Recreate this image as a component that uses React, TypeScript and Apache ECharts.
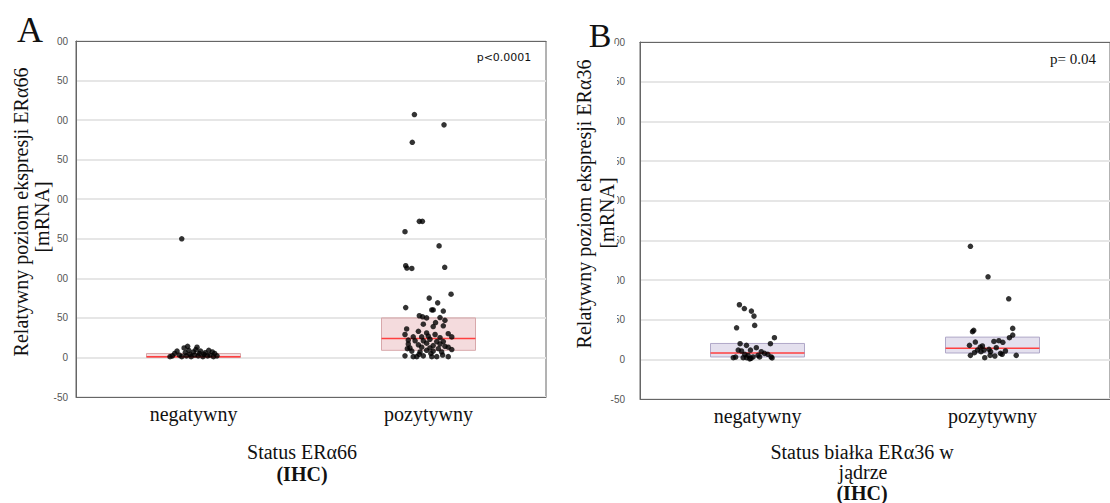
import React, { useEffect, useRef } from "react";
import * as echarts from "echarts";

const categories = ["negatywny", "pozytywny"];
const yTicks = { min: -50, max: 400, interval: 50 };

// Panel A (ERα66): box stats [q1, median, q3]
const boxA = [
  [0, 1, 5],
  [9, 24, 50],
];
// Panel B (ERα36)
const boxB = [
  [3, 8, 20],
  [8, 14, 28],
];

// points: [jitter from category centre (category units), value]
const aNeg = [
  [-0.05, 150], [-0.1, 1], [-0.09, 2], [-0.07, 8], [-0.06, 3], [-0.05, 1], [-0.04, 12], [-0.035, 6],
  [-0.03, 2], [-0.02, 9], [-0.015, 4], [-0.01, 1], [0, 7], [0.005, 3], [0.01, 10], [0.02, 2],
  [0.025, 5], [0.03, 8], [0.04, 1], [0.045, 4], [0.05, 6], [0.06, 2], [0.065, 9], [0.07, 3],
  [0.08, 7], [0.085, 1], [0.09, 5], [0.1, 2], [-0.08, 5], [-0.025, 14], [0.015, 13],
];
const aPos = [
  [-0.06, 307], [0.066, 294], [-0.069, 272], [-0.039, 172], [-0.026, 172], [-0.1, 159], [0.045, 141],
  [-0.097, 116], [-0.092, 113], [-0.071, 112.5], [0.069, 114], [0.096, 80], [0.003, 75], [0.039, 69],
  [-0.097, 63], [0.02, 60], [0.014, 60], [0.063, 58.6], [-0.039, 52.7], [-0.025, 51.4], [-0.008, 50],
  [0.049, 50.4], [0.07, 47], [0.02, 39], [-0.022, 42], [0.063, 40], [-0.093, 36], [-0.043, 33],
  [-0.008, 31], [0.084, 30], [-0.1, 29], [0.028, 29], [-0.065, 26], [-0.029, 26], [-0.001, 27],
  [0.049, 25], [0.099, 26], [-0.086, 22], [-0.057, 21], [-0.022, 21], [0.006, 23], [0.035, 20],
  [0.063, 20], [-0.086, 17], [-0.043, 16], [-0.008, 18], [0.02, 15], [0.049, 17], [0.07, 14],
  [-0.079, 12], [-0.029, 13], [0.006, 12], [0.042, 11], [0.084, 13], [0.099, 10], [-0.071, 8],
  [-0.036, 7], [-0.008, 9], [0.02, 8], [0.056, 7], [-0.1, 2], [-0.065, 1], [-0.05, 1], [-0.022, 2],
  [0.014, 1], [0.035, 1], [0.084, 1], [-0.04, 4], [0.01, 5], [0.06, 3], [-0.09, 11], [0.03, 44],
];
const bNeg = [
  [-0.077, 68.8], [-0.056, 64], [-0.026, 60.8], [-0.015, 54.5], [-0.012, 42.8], [-0.089, 39.8],
  [0.072, 27.3], [0.055, 19.7], [-0.074, 19.7], [-0.047, 17.6], [-0.005, 14.7], [-0.082, 11.7],
  [-0.068, 10.5], [-0.03, 11.7], [0.016, 9.6], [0.03, 7.5], [0.044, 6.3], [-0.054, 6.3], [-0.04, 5],
  [0.002, 5], [-0.103, 2.1], [-0.093, 2.9], [-0.061, 2.1], [-0.047, 2.1], [-0.028, 1.3], [-0.019, 3],
  [0.009, 3], [0.058, 3], [-0.033, 0.5], [0.062, 1.7],
];
const bPos = [
  [-0.094, 142.5], [-0.019, 104], [0.069, 76.3], [0.086, 39], [-0.08, 36.5], [-0.085, 34.8],
  [0.086, 30.6], [0.072, 27.3], [-0.073, 21.8], [0.006, 22.5], [0.027, 23.5], [0.044, 21.5],
  [-0.098, 17.6], [-0.043, 16.8], [-0.052, 15.5], [0.016, 14.7], [-0.015, 12.6], [-0.036, 11.7],
  [-0.064, 11.7], [0.055, 10.5], [-0.077, 8.4], [-0.049, 9.6], [-0.008, 9.6], [0.034, 7.5],
  [-0.094, 5], [-0.01, 5], [0.01, 4.2], [-0.033, 2.1], [0.101, 5], [0.041, 6.3],
];

const SERIF = '"Liberation Serif", "DejaVu Serif", serif';
const SANS = '"Liberation Sans", Arial, sans-serif';

function toPoints(pts: number[][], cat: number) {
  return pts.map(([j, v]) => [cat + 0.5 + j, v]);
}

function yLabel(v: number) {
  const s = String(v);
  return v >= 100 ? s.slice(-2) : s;
}

export default function App() {
  const ref = useRef<HTMLDivElement>(null);
  useEffect(() => {
    if (!ref.current) return;
    const chart = echarts.init(ref.current, undefined, { renderer: "svg" });

    const boxSeries = (stats: number[][], xIdx: number, yIdx: number, fill: string, stroke: string) => ({
      type: "custom",
      xAxisIndex: xIdx,
      yAxisIndex: yIdx,
      data: stats.map((s, i) => [i, s[0], s[1], s[2]]),
      renderItem: (params: any, api: any) => {
        const c = api.value(0) + 0.5;
        const tl = api.coord([c - 0.2, api.value(3)]);
        const br = api.coord([c + 0.2, api.value(1)]);
        const ml = api.coord([c - 0.2, api.value(2)]);
        const mr = api.coord([c + 0.2, api.value(2)]);
        return {
          type: "group",
          children: [
            {
              type: "rect",
              shape: { x: tl[0], y: tl[1], width: br[0] - tl[0], height: br[1] - tl[1] },
              style: { fill, stroke, lineWidth: 1 },
            },
            {
              type: "line",
              shape: { x1: ml[0], y1: ml[1], x2: mr[0], y2: mr[1] },
              style: { stroke: "#ff4040", lineWidth: 1.5 },
            },
          ],
        };
      },
    });

    const scatter = (pts: number[][], cat: number, xIdx: number, yIdx: number) => ({
      type: "scatter",
      xAxisIndex: xIdx,
      yAxisIndex: yIdx,
      symbolSize: 5.5,
      itemStyle: { color: "#000" },
      data: toPoints(pts, cat),
    });

    const catAxis = (grid: number) => ({
      type: "category",
      gridIndex: grid,
      data: categories,
      boundaryGap: true,
      position: "bottom",
      axisLine: { onZero: false, lineStyle: { color: "#666", width: 1 } },
      axisTick: { alignWithLabel: true, length: 4, lineStyle: { color: "#666" } },
      axisLabel: { fontFamily: SERIF, fontSize: 20, color: "#111", margin: 7 },
    });
    const topAxis = (grid: number) => ({
      type: "category",
      gridIndex: grid,
      data: categories,
      boundaryGap: true,
      position: "top",
      axisLine: { onZero: false, lineStyle: { color: "#666", width: 1 } },
      axisTick: { alignWithLabel: true, inside: true, length: 3, lineStyle: { color: "#666" } },
      axisLabel: { show: false },
    });
    const valAxis = (grid: number) => ({
      type: "value",
      gridIndex: grid,
      min: 0,
      max: 2,
      show: false,
    });
    const yAxis = (grid: number, margin: number) => ({
      type: "value",
      gridIndex: grid,
      min: yTicks.min,
      max: yTicks.max,
      interval: yTicks.interval,
      axisLine: { show: true, onZero: false, lineStyle: { color: "#666", width: 1 } },
      axisTick: { show: false },
      axisLabel: { fontFamily: SANS, fontSize: 10, color: "#555", margin, formatter: yLabel },
      splitLine: { lineStyle: { color: "#e6e6e6", width: 2 } },
    });

    const txt = (text: string, x: number, y: number, font: string, extra: any = {}) => ({
      type: "text",
      x,
      y,
      z: 110,
      ...extra,
      style: { text, font, fill: "#111", align: "center", verticalAlign: "middle" },
    });

    chart.setOption({
      animation: false,
      backgroundColor: "#fff",
      grid: [
        { left: 76, top: 41, width: 470, height: 356, show: true, borderColor: "#666", borderWidth: 1 },
        { left: 640, top: 42, width: 478, height: 357, show: true, borderColor: "#666", borderWidth: 1 },
      ],
      xAxis: [catAxis(0), valAxis(0), topAxis(0), catAxis(1), valAxis(1), topAxis(1)],
      yAxis: [yAxis(0, 8), yAxis(1, 15)],
      series: [
        boxSeries(boxA, 1, 0, "rgba(225,160,165,0.38)", "#d8a8ab"),
        boxSeries(boxB, 4, 1, "rgba(190,180,215,0.42)", "#b0a8c8"),
        scatter(aNeg, 0, 1, 0),
        scatter(aPos, 1, 1, 0),
        scatter(bNeg, 0, 4, 1),
        scatter(bPos, 1, 4, 1),
      ],
      graphic: [
        {
          type: "rect",
          z: 100,
          shape: { x: 594, y: 44, width: 23, height: 350 },
          style: { fill: "#fff" },
        },
        txt("A", 30, 30, `36px ${SERIF}`),
        txt("B", 600, 35, `34px ${SERIF}`),
        txt("p<0.0001", 504, 57, `11px "DejaVu Sans", sans-serif`),
        txt("p= 0.04", 1073, 59, `15px ${SERIF}`),
        txt("Relatywny poziom ekspresji ERα66", 21, 212, `20px ${SERIF}`, { rotation: Math.PI / 2 }),
        txt("[mRNA]", 42, 217, `20px ${SERIF}`, { rotation: Math.PI / 2 }),
        txt("Relatywny poziom ekspresji ERα36", 584, 204, `20px ${SERIF}`, { rotation: Math.PI / 2 }),
        txt("[mRNA]", 607, 213, `20px ${SERIF}`, { rotation: Math.PI / 2 }),
        txt("Status ERα66", 302, 452, `20px ${SERIF}`),
        txt("(IHC)", 302, 474, `bold 20px ${SERIF}`),
        txt("Status białka ERα36 w", 862, 452, `20px ${SERIF}`),
        txt("jądrze", 863, 472, `20px ${SERIF}`),
        txt("(IHC)", 862, 493, `bold 20px ${SERIF}`),
      ],
    });
    return () => chart.dispose();
  }, []);

  return (
    <div
      ref={ref}
      style={{ position: "fixed", left: 0, top: 0, width: 1110, height: 503, background: "#fff" }}
    />
  );
}
